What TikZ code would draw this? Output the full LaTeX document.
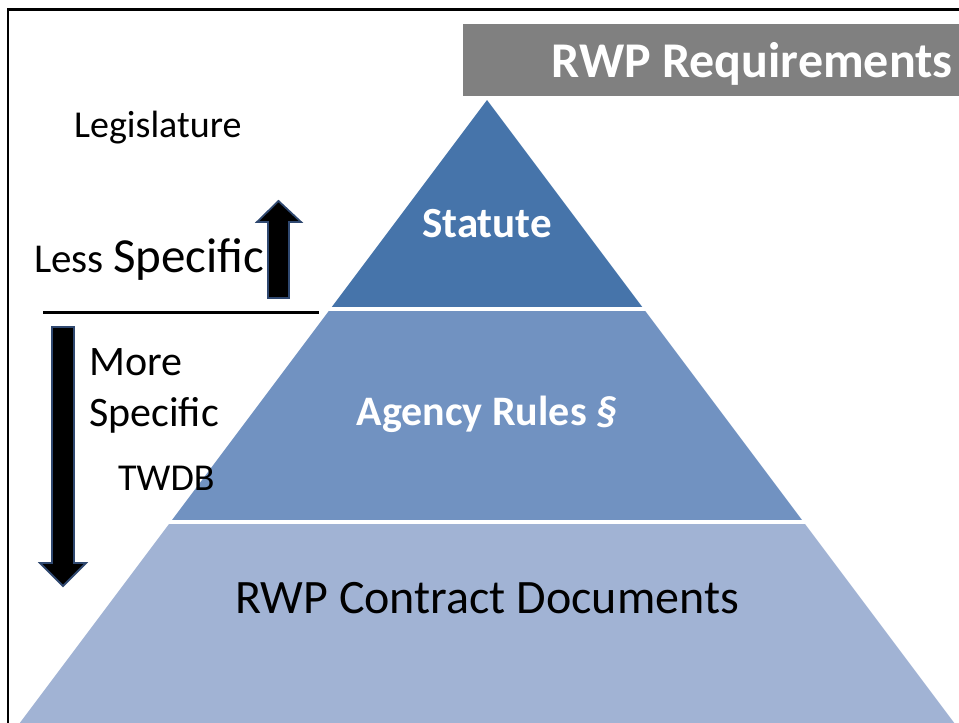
\documentclass[tikz,border=0pt]{standalone}
\usepackage{fontspec}
\setmainfont{Carlito}
\definecolor{statuteblue}{RGB}{70,116,170}
\definecolor{agencyblue}{RGB}{113,146,193}
\definecolor{contractblue}{RGB}{161,179,212}
\definecolor{arrowedge}{RGB}{47,72,112}
\definecolor{bannergray}{RGB}{128,128,128}
\begin{document}
\begin{tikzpicture}[x=1pt, y=-1pt,
    layer/.style = {white, font=\bfseries},
    side/.style = {black, inner sep=0pt, anchor=base west},
    bigarrow/.style = {fill=black, draw=arrowedge, line width=1.8pt, line join=miter}]
    \useasboundingbox (0,0) rectangle (959,723);
    % frame
    \draw[line width=2.2pt] (8,723) -- (8,9.5) -- (959,9.5);
    % banner
    \fill[bannergray] (463,24) rectangle (959,96);
    \node[white, font=\bfseries\fontsize{50}{50}\selectfont, anchor=base east, inner sep=0pt] (title) at (953,77) {RWP Requirements};
    % pyramid
    \begin{scope}
        \clip (487,100) -- (19.75,723) -- (954.25,723) -- cycle;
        \fill[statuteblue] (0,90) rectangle (959,307);
        \fill[agencyblue] (0,311) rectangle (959,520);
        \fill[contractblue] (0,524) rectangle (959,730);
    \end{scope}
    \node[layer, font=\bfseries\fontsize{43}{43}\selectfont, anchor=base] (statute) at (487,237) {Statute};
    \node[layer, font=\bfseries\fontsize{42}{42}\selectfont, anchor=base] (agency) at (487,425) {Agency Rules \textit{\S}};
    \node[black, font=\fontsize{48}{48}\selectfont, anchor=base] (contract) at (487,613) {RWP Contract Documents};
    % left side labels
    \node[side, font=\fontsize{38}{38}\selectfont] (legis) at (74,137) {Legislature};
    \node[side] (less) at (34,272) {\fontsize{41}{41}\selectfont Less \fontsize{49}{49}\selectfont Specific};
    \draw[line width=3pt] (43,312) -- (319,312);
    \node[side, font=\fontsize{42}{42}\selectfont] (more) at (89,375) {More};
    \node[side, font=\fontsize{42}{42}\selectfont] (spec) at (89,426) {Specific};
    \node[side, font=\fontsize{38}{38}\selectfont] (twdb) at (118,490) {TWDB};
    % arrows
    \draw[bigarrow] (268,298) -- (268,222) -- (257,222) -- (278.5,201) -- (301,222) -- (289,222) -- (289,298) -- cycle;
    \draw[bigarrow] (52,327) -- (52,563) -- (40,563) -- (63,586) -- (86,563) -- (74,563) -- (74,327) -- cycle;
\end{tikzpicture}
\end{document}
